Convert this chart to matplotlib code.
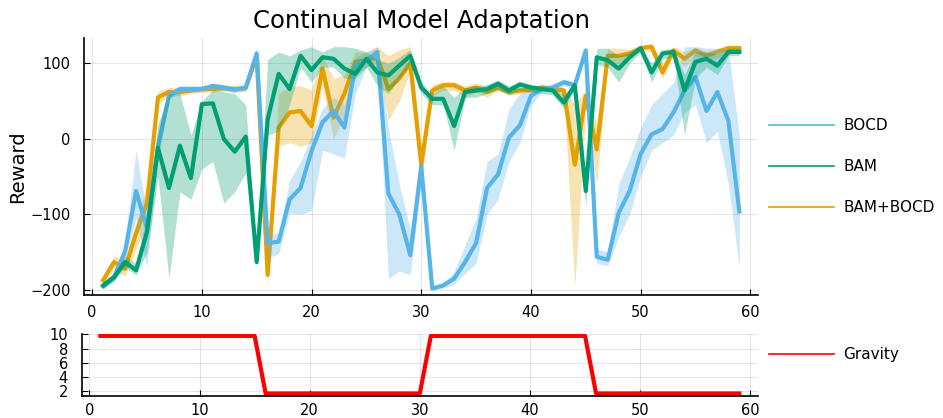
import numpy as np
import matplotlib.pyplot as plt
from matplotlib.lines import Line2D

# episodes
x = np.arange(1, 60)

# mean reward per method
bocd = [-195, -183, -149, -69, -118, -10, 57, 66, 66, 66, 70, 68, 65, 68, 113,
        -138, -136, -80, -65, -16, 22, 37, 15, 97, 104, 115, -72, -100, -154, -36,
        -198, -194, -185, -163, -138, -65, -47, 2, 18, 57, 66, 68, 75, 71, 117,
        -156, -160, -98, -69, -20, 6, 13, 35, 64, 82, 37, 62, 24, -96]
bam = [-194, -183, -163, -174, -123, -12, -65, -9, -52, 46, 47, 0, -17, 3, -163,
       26, 86, 66, 110, 91, 108, 106, 93, 86, 106, 88, 84, 97, 110, 68,
       53, 53, 17, 62, 64, 66, 73, 64, 72, 68, 66, 64, 48, 71, -69,
       108, 104, 93, 108, 120, 88, 113, 115, 64, 102, 106, 97, 115, 115]
bam_bocd = [-187, -163, -172, -125, -85, 55, 62, 62, 64, 66, 66, 67, 66, 67, 110,
            -180, 15, 35, 37, 17, 93, 28, 60, 102, 104, 108, 66, 80, 100, -34,
            64, 71, 71, 64, 68, 62, 68, 62, 64, 65, 68, 66, 64, -34, 57,
            -14, 110, 110, 113, 120, 122, 88, 117, 106, 117, 110, 115, 120, 120]

# ribbon bounds
bocd_lo = [-199, -188, -160, -105, -170, -30, 52, 62, 62, 62, 66, 64, 61, 64, 105,
           -158, -152, -98, -100, -95, -15, -20, -25, 60, 95, 105, -185, -175, -180, -60,
           -200, -198, -192, -178, -165, -100, -80, -30, -5, 45, 62, 64, 70, 66, 108,
           -165, -168, -130, -100, -50, -15, -5, 5, 35, 45, -5, 10, -60, -170]
bocd_hi = [-190, -176, -138, -15, -100, 10, 63, 70, 70, 70, 74, 72, 69, 72, 122,
           -125, -125, -55, -30, 5, 40, 55, 45, 108, 115, 122, 15, -60, -120, -25,
           -196, -190, -176, -140, -105, -30, -20, 40, 60, 65, 70, 72, 79, 76, 122,
           -145, -150, -60, -25, 15, 45, 60, 75, 122, 122, 120, 120, 118, 5]
bam_lo = [-198, -188, -170, -180, -150, -50, -185, -70, -80, -40, -30, -85, -70, -45, -170,
          5, 10, 45, 95, 75, 95, 95, 80, 80, 95, 70, 60, 80, 100, 60,
          45, 45, -15, 55, 55, 60, 65, 58, 65, 62, 60, 58, 40, 65, -90,
          98, 95, 75, 100, 115, 75, 105, 110, 5, 80, 95, 85, 110, 110]
bam_hi = [-189, -178, -155, -165, -100, 20, 60, 60, 5, 50, 65, 62, 60, 45, -150,
          105, 115, 110, 118, 122, 115, 122, 122, 120, 115, 105, 100, 108, 118, 75,
          60, 70, 55, 68, 70, 72, 78, 70, 76, 72, 70, 68, 58, 76, -50,
          120, 120, 110, 115, 123, 100, 118, 120, 85, 115, 115, 112, 120, 120]
bam_bocd_lo = [-192, -172, -182, -145, -115, 45, 57, 57, 60, 62, 62, 63, 62, 63, 105,
               -195, -10, -5, -10, -5, 70, 0, 30, 85, 95, 100, 25, 50, 90, -60,
               58, 64, 64, 55, 62, 55, 64, 58, 60, 61, 64, 62, 58, -195, 40,
               -60, 100, 100, 108, 115, 116, 80, 110, 95, 110, 104, 108, 114, 114]
bam_bocd_hi = [-180, -155, -160, -110, -60, 63, 68, 68, 68, 70, 70, 71, 70, 71, 115,
               -165, 60, 70, 70, 65, 110, 80, 85, 115, 115, 122, 110, 118, 122, -10,
               72, 76, 76, 70, 74, 68, 72, 66, 68, 69, 72, 70, 68, 45, 65,
               20, 120, 120, 118, 124, 126, 100, 122, 115, 122, 116, 120, 124, 124]

# gravity schedule
gravity = [9.8] * 15 + [1.62] * 15 + [9.8] * 15 + [1.62] * 14

c_bocd = '#56B4E9'
c_bam = '#009E73'
c_both = '#E69F00'

fig = plt.figure(figsize=(9.43, 4.18), dpi=100)
ax = fig.add_axes([0.0896, 0.2943, 0.7142, 0.6148])
ax2 = fig.add_axes([0.0866, 0.0533, 0.7172, 0.1477])

# orange at the back, then blue, green on top
series = [(bam_bocd, bam_bocd_lo, bam_bocd_hi, c_both, 2),
          (bocd, bocd_lo, bocd_hi, c_bocd, 3),
          (bam, bam_lo, bam_hi, c_bam, 4)]
for y, lo, hi, c, z in series:
    ax.fill_between(x, lo, hi, color=c, alpha=0.3, lw=0, zorder=z)
    ax.plot(x, y, color=c, lw=3, zorder=z + 0.5)

ax.set_xlim(-0.7, 60.7)
ax.set_ylim(-206.6, 133.5)
ax.set_xticks(range(0, 61, 10))
ax.set_yticks([-200, -100, 0, 100])
ax.set_title('Continual Model Adaptation', fontsize=17.5, pad=7)
ax.set_ylabel('Reward', fontsize=14, labelpad=2)

ax2.plot(x, gravity, color='#FF0000', lw=3)
ax2.set_xlim(-0.7, 60.7)
ax2.set_ylim(1.3, 10.07)
ax2.set_xticks(range(0, 61, 10))
ax2.set_yticks([2, 4, 6, 8, 10])

for a in (ax, ax2):
    a.grid(True, color='black', alpha=0.1, lw=0.8)
    a.set_axisbelow(True)
    for s in ('top', 'right'):
        a.spines[s].set_visible(False)
    for s in ('left', 'bottom'):
        a.spines[s].set_linewidth(1.2)
    a.tick_params(direction='in', length=4, labelsize=10.5)
    a.tick_params(axis='y', pad=10)
ax.tick_params(axis='x', pad=7)
ax2.tick_params(axis='x', pad=5)

handles = [Line2D([], [], color=c_bocd, lw=1.2),
           Line2D([], [], color=c_bam, lw=1.2),
           Line2D([], [], color=c_both, lw=1.2)]
ax.legend(handles, ['BOCD', 'BAM', 'BAM+BOCD'], loc='center left',
          bbox_to_anchor=(0.9955, 0.5), frameon=False, fontsize=11,
          handlelength=4.25, handletextpad=0.65, labelspacing=1.7)
ax2.legend([Line2D([], [], color='#FF0000', lw=1.2)], ['Gravity'],
           loc='center left', bbox_to_anchor=(0.9955, 0.66), frameon=False,
           fontsize=11, handlelength=4.25, handletextpad=0.65)

fig.savefig('out.png', dpi=100)
